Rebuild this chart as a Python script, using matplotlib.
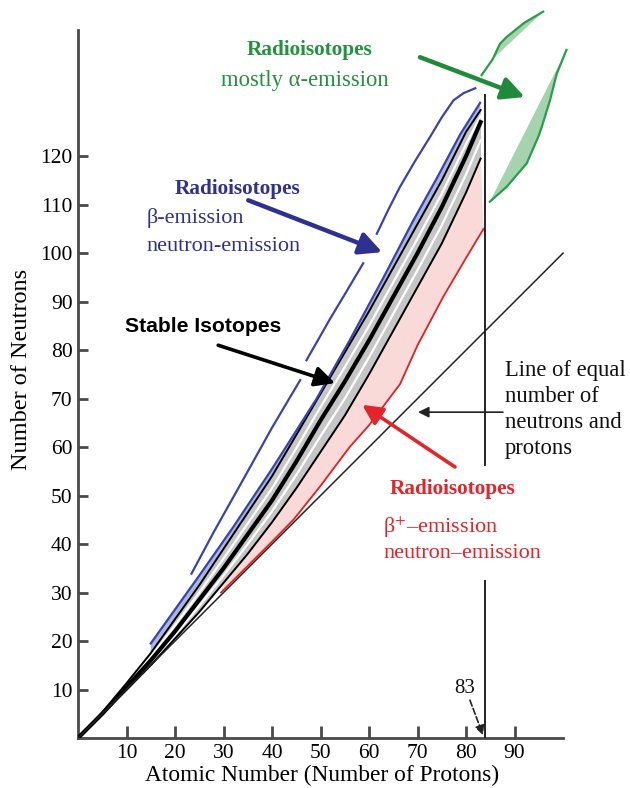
import matplotlib
matplotlib.use("Agg")
import matplotlib.pyplot as plt
import numpy as np

plt.rcParams['font.family'] = ['Liberation Serif', 'DejaVu Serif']
plt.rcParams['mathtext.fontset'] = 'stix'

# stable band (Z -> N)
Z_GRID = [0, 5, 10, 15, 20, 25, 30, 35, 40, 45, 50, 55, 60, 65, 70, 75, 80, 83]
N_CENTER = [0, 5, 10.5, 16, 22, 28.5, 35, 42, 49, 57, 65.5, 73.5, 82, 91, 100, 109.5, 120, 127]
N_UPPER = [0, 5.3, 11.3, 17.5, 24.5, 31.5, 39, 46.5, 54, 62.5, 71, 79.5, 88, 97, 106, 115, 125, 129.5]
N_LOWER = [0, 4.9, 9.9, 15, 20.5, 26, 32, 38, 44.5, 51.5, 59, 66.5, 75, 84, 93, 102, 112.5, 119.5]

# beta- side (blue)
BLUE_IN_Z = [15, 20, 25, 32, 40, 49.2, 56, 63, 69, 74, 78.8, 82.9]
BLUE_IN_N = [19.5, 26.5, 33.5, 43.5, 55.5, 70, 82, 95, 106.5, 115.5, 124.5, 131]
BLUE_OUT = [
    ([23.4, 28, 34, 40, 45.8], [33.9, 42.5, 53.2, 64, 73.8]),
    ([47.1, 52, 55, 58.8], [77.9, 86.5, 91.5, 97.9]),
    ([61.6, 64, 66.4, 69.5, 72.6, 75, 77.4, 79.5, 81.9],
     [104, 109, 113.7, 119, 124, 128, 131.5, 133, 134]),
]

# beta+ side (red)
RED_Z = [29.5, 35, 40, 44.4, 50, 56, 60, 66.4, 70, 75.3, 80, 83.6]
RED_N = [30, 35.5, 40.5, 45, 52, 60, 64.5, 73, 81, 91, 99, 105]

# alpha emitters (green)
GA_Z = [83.2, 85.5, 87, 88.4, 92, 95.9]
GA_N = [136.7, 140, 143.2, 144.6, 147.5, 149.8]
GB_Z = [84.9, 88.4, 92.5, 94.9, 95.6, 97.3, 98.7, 100.7]
GB_N = [110.6, 113.7, 118.5, 124, 126, 131.5, 137, 141.9]

X_TICKS = [10, 20, 30, 40, 50, 60, 70, 80, 90]
Y_TICKS = [10, 20, 30, 40, 50, 60, 70, 80, 90, 100, 110, 120]
Z_LIMIT = 83.9

GREEN = '#23923d'
BLUE = '#2e3192'
RED = '#e3242b'
AXC = '#4a4a4a'

fig = plt.figure(figsize=(6.3, 7.88), dpi=100)
ax = fig.add_axes([78 / 630, 50 / 788, 1 - 78 / 630, 738 / 788])
ax.set_xlim(0, 113.8)
ax.set_ylim(0, 152.2)

# pink region between red line and stable band
lz = [z for z in Z_GRID if z >= 30][::-1]
ln = [n for z, n in zip(Z_GRID, N_LOWER) if z >= 30][::-1]
ax.fill(list(RED_Z) + lz, list(RED_N) + ln, color='#fad9d9', lw=0, zorder=1)

# stable band
ax.fill_between(Z_GRID, N_LOWER, N_UPPER, color='#c6c6c6', lw=0, zorder=2)
# blue shading above band
uz = [z for z in Z_GRID if z >= 15][::-1]
un = [n for z, n in zip(Z_GRID, N_UPPER) if z >= 15][::-1]
ax.fill(list(BLUE_IN_Z) + uz, list(BLUE_IN_N) + un, color='#a9b8e0', lw=0, zorder=2)

zc = np.array(Z_GRID)
ax.plot(zc, (np.array(N_CENTER) + np.array(N_UPPER)) / 2, color='white', lw=1.6, zorder=3)
ax.plot(zc, (np.array(N_CENTER) + np.array(N_LOWER)) / 2, color='white', lw=1.6, zorder=3)
ax.plot(Z_GRID, N_UPPER, color='black', lw=1.4, zorder=4)
ax.plot(Z_GRID, N_LOWER, color='black', lw=1.4, zorder=4)
ax.plot(Z_GRID, N_CENTER, color='black', lw=3, zorder=4)

ax.plot(BLUE_IN_Z, BLUE_IN_N, color='#3a45a8', lw=1.6, zorder=5)
for bz, bn in BLUE_OUT:
    ax.plot(bz, bn, color='#3a45a8', lw=1.6, zorder=5)

ax.plot(RED_Z, RED_N, color='#e02020', lw=1.3, zorder=5)

# green regions: outline plus shaded chord
for gz, gn, k in [(GA_Z, GA_N, 1), (GB_Z, GB_N, 0)]:
    ax.fill(gz[k:], gn[k:], color='#a5d3ad', lw=0, zorder=2, clip_on=False)
    ax.plot(gz, gn, color='#2a9d47', lw=1.6, zorder=5, clip_on=False)

# N = Z line
ax.plot([0, 100], [0, 100], color='#222222', lw=1.1, zorder=4)

# Z = 83 limit (broken around label)
ax.plot([Z_LIMIT, Z_LIMIT], [0, 32.4], color='#222222', lw=1.4, zorder=6)
ax.plot([Z_LIMIT, Z_LIMIT], [56.3, 132.6], color='#222222', lw=1.4, zorder=6)

# axes styling
for s in ['top', 'right']:
    ax.spines[s].set_visible(False)
ax.spines['left'].set_bounds(0, 146)
ax.spines['bottom'].set_bounds(0, 100)
for s in ['left', 'bottom']:
    ax.spines[s].set_linewidth(2)
    ax.spines[s].set_color(AXC)
ax.set_xticks(X_TICKS)
ax.set_yticks(Y_TICKS)
ax.tick_params(axis='x', direction='in', length=9, width=2, color=AXC, labelsize=15.5, pad=4)
ax.tick_params(axis='y', direction='in', length=7, width=2, color=AXC, labelsize=15.5, pad=4)
ax.set_xlabel('Atomic Number (Number of Protons)', fontsize=16.8)
ax.set_ylabel('Number of Neutrons', fontsize=17.5)
ax.xaxis.set_label_coords(0.442, -0.036)
ax.yaxis.set_label_coords(-0.084, 0.5)

# arrows
def arrow(tail, head, color, lw, scale, ls='-'):
    ax.annotate('', xy=head, xytext=tail, zorder=7,
                arrowprops=dict(arrowstyle='-|>', color=color, lw=lw, ls=ls,
                                mutation_scale=scale, shrinkA=0, shrinkB=0))

arrow((70.5, 140.4), (92.1, 132.2), '#1f8a3a', 3.2, 34)
arrow((35.1, 110.9), (62.7, 100.2), BLUE, 3.2, 34)
arrow((28.9, 81.0), (53.0, 73.2), 'black', 2.6, 30)
arrow((77.7, 55.9), (58.6, 68.7), RED, 2.6, 30)
arrow((87.6, 67.2), (70.1, 67.2), '#222222', 1.2, 16)
arrow((80.8, 7.8), (83.5, 0.6), '#222222', 1.2, 14, ls='--')

# labels
ax.text(47.8, 141.9, 'Radioisotopes', color=GREEN, fontsize=15.3, weight='bold', ha='center', va='center')
ax.text(46.8, 135.7, 'mostly α-emission', color=GREEN, fontsize=16.3, ha='center', va='center')
ax.text(32.8, 113.2, 'Radioisotopes', color=BLUE, fontsize=15.3, weight='bold', ha='center', va='center')
ax.text(14.2, 107.2, 'β-emission', color=BLUE, fontsize=16, ha='left', va='center')
ax.text(14.2, 101.4, 'neutron-emission', color=BLUE, fontsize=16, ha='left', va='center')
ax.text(25.8, 84.9, 'Stable Isotopes', color='black', fontsize=15.2, weight='bold', ha='center',
        va='center', family='Liberation Sans')
for i, line in enumerate(['Line of equal', 'number of', 'neutrons and', 'protons']):
    ax.text(88.0, 75.7 - 5.3 * i, line, color='#111111', fontsize=16.3, ha='left', va='center')
ax.text(77.3, 51.3, 'Radioisotopes', color=RED, fontsize=15.3, weight='bold', ha='center', va='center')
ax.text(62.9, 43.5, 'β$^{+}$–emission', color=RED, fontsize=16, ha='left', va='center')
ax.text(62.9, 38.1, 'neutron–emission', color=RED, fontsize=16, ha='left', va='center')
ax.text(79.8, 10.3, '83', color='#111111', fontsize=15, ha='center', va='center')

fig.savefig('out.png', dpi=100)
